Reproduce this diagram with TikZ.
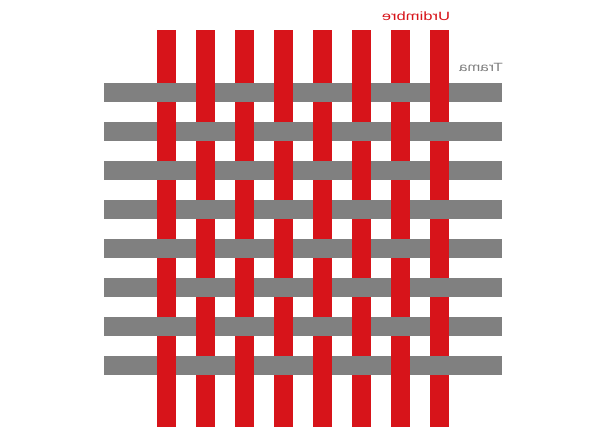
\documentclass[tikz,border=0pt]{standalone}
\usepackage{fontspec}
\setmainfont{Liberation Sans}
\definecolor{urdred}{HTML}{D7141A}
\definecolor{tramagray}{HTML}{808080}
\begin{document}
\begin{tikzpicture}[
  x=1pt, y=-1pt,
  trama/.style={fill=tramagray},
  urdimbre/.style={fill=urdred},
  lbl/.style={font=\fontsize{12}{14}\selectfont, inner sep=0pt}
]
\useasboundingbox (0,0) rectangle (609,443);

% Weft threads (trama)
\foreach \j in {1,...,8}
  \fill[trama] (104,{83+39*(\j-1)}) rectangle (502,{102+39*(\j-1)});

% Warp threads (urdimbre)
\foreach \i in {1,...,8}
  \fill[urdimbre] ({157+39*(\i-1)},30) rectangle ({176+39*(\i-1)},427);

% Weft over warp where i+j is even
\foreach \j in {1,...,8}
  \foreach \i in {1,...,8} {
    \pgfmathparse{int(mod(\i+\j,2))}
    \ifnum\pgfmathresult=0
      \fill[trama] ({157+39*(\i-1)},{83+39*(\j-1)}) rectangle ({176+39*(\i-1)},{102+39*(\j-1)});
    \fi
  }

% Labels (mirrored)
\node[lbl, text=urdred, xscale=-1.38] (urd) at (416,16) {Urdimbre};
\node[lbl, text=tramagray, xscale=-1.28] (tra) at (481,67) {Trama};

\end{tikzpicture}
\end{document}
